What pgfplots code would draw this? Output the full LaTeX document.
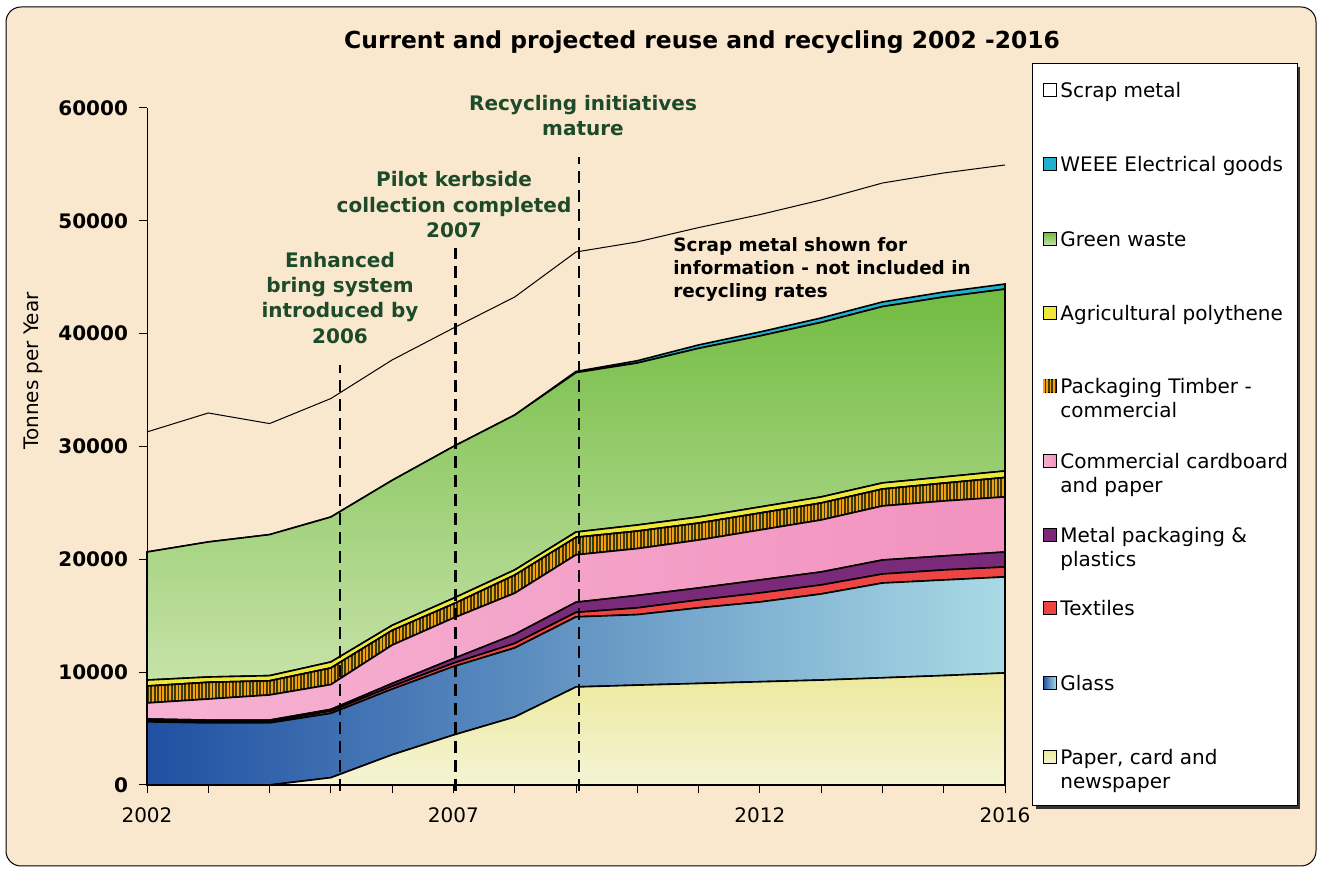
\documentclass[border=0pt]{standalone}
\usepackage{fontspec}
\setmainfont{DejaVu Sans}
\usepackage{pgfplots}
\pgfplotsset{compat=1.18}
\usepackage{pgfplotstable}
\usetikzlibrary{patterns.meta}

\definecolor{bgcol}{HTML}{F9E8CD}
\definecolor{paperTop}{HTML}{ECE99C}
\definecolor{paperBot}{HTML}{F5F4D4}
\definecolor{glassL}{HTML}{1F50A2}
\definecolor{glassM}{HTML}{7CC2EC}
\definecolor{glassR}{HTML}{A9DAE5}
\definecolor{textilecol}{HTML}{EE4444}
\definecolor{metalcol}{HTML}{7A2A78}
\definecolor{cardL}{HTML}{F6B2D2}
\definecolor{cardR}{HTML}{F292BF}
\definecolor{timberBase}{HTML}{3F3A05}
\definecolor{timberLine}{HTML}{F0A010}
\definecolor{agricol}{HTML}{EDE83A}
\definecolor{greenTop}{HTML}{72BC42}
\definecolor{greenBot}{HTML}{C6E2A8}
\definecolor{weeecol}{HTML}{1FB0CD}
\definecolor{anncol}{HTML}{1C4A2A}

\pgfplotstableread{
year paper glass textiles metal cardboard timber agri green weee scrap
2002 0    5600 150 100  1420 1500 530 11350 0   10640
2003 0    5500 150 100  1870 1480 470 11970 0   11430
2004 0    5500 150 100  2230 1250 460 12500 0   9840
2005 650  5700 200 150  2200 1470 530 12850 0   10500
2006 2680 5820 250 250  3400 1300 450 12850 0   10670
2007 4430 6070 300 400  3600 1250 500 13450 0   10500
2008 6030 6120 400 800  3650 1600 460 13730 0   10460
2009 8690 6210 400 900  4200 1550 470 14130 100 10590
2010 8850 6250 600 1100 4150 1550 540 14360 200 10530
2011 9000 6700 700 1060 4250 1500 540 14950 300 10400
2012 9150 7070 800 1150 4430 1500 540 15160 350 10400
2013 9300 7630 800 1150 4610 1500 540 15470 390 10460
2014 9500 8400 800 1240 4790 1500 540 15630 410 10540
2015 9700 8470 890 1240 4870 1580 550 15950 440 10550
2016 9930 8510 880 1330 4880 1720 580 16120 450 10550
}\datatable

\tikzset{
  paperstyle/.style={top color=paperTop, bottom color=paperBot},
  glassstyle/.style={left color=glassL, middle color=glassM, right color=glassR},
  textilestyle/.style={fill=textilecol},
  metalstyle/.style={fill=metalcol},
  cardstyle/.style={left color=cardL, right color=cardR},
  timberstyle/.style={fill=timberBase, postaction={pattern={Lines[angle=90,distance=1.7pt,line width=0.8pt]}, pattern color=timberLine}},
  agristyle/.style={fill=agricol},
  greenstyle/.style={top color=greenTop, bottom color=greenBot},
  weeestyle/.style={fill=weeecol},
  scrapstyle/.style={fill=white},
  dashline/.style={black, line width=1.4pt, dash pattern=on 6pt off 3.5pt},
}

\newcommand{\legitem}[4]{%
  \draw[#2, draw=black, line width=0.5pt] (521.5pt,{#1pt-3.25pt}) rectangle (528pt,{#1pt+3.25pt});
  \node[anchor=base west, inner sep=0pt, font=\fontsize{10}{12}\selectfont] at (530pt,{#1pt-3.6pt}) {#3};
  \node[anchor=base west, inner sep=0pt, font=\fontsize{10}{12}\selectfont] at (530pt,{#1pt-15.6pt}) {#4};
}

\begin{document}
\begin{tikzpicture}
\fill[white] (0pt,0pt) rectangle (660.5pt,435.5pt);
\draw[fill=bgcol, rounded corners=7.5pt, line width=0.5pt] (3pt,2.5pt) rectangle (658pt,432pt);

\begin{axis}[
  at={(73.5pt,43pt)}, anchor=south west,
  scale only axis, width=429pt, height=338.5pt,
  xmin=2002, xmax=2016, ymin=0, ymax=60000,
  stack plots=y,
  clip=false,
  scaled y ticks=false, scaled x ticks=false,
  axis x line*=bottom, axis y line*=left,
  axis line style={-, black},
  x axis line style={line width=1pt},
  tick align=outside,
  major tick length=4pt,
  tick style={black, line width=0.5pt},
  xtick={2002,2003,...,2016},
  xticklabels={2002,,,,,2007,,,,,2012,,,,2016},
  ytick={0,10000,20000,30000,40000,50000,60000},
  yticklabels={0,10000,20000,30000,40000,50000,60000},
  xticklabel style={font=\fontsize{10}{12}\selectfont, yshift=-4pt},
  yticklabel style={font=\fontsize{10}{12}\selectfont\bfseries, xshift=-2pt},
  ylabel={Tonnes per Year},
  every axis y label/.style={at={(axis description cs:-0.1329,0.6115)}, anchor=center, rotate=90, font=\fontsize{10}{12}\selectfont},
  title={Current and projected reuse and recycling 2002 -2016},
  title style={at={(axis description cs:0.6469,1.0702)}, anchor=base, font=\fontsize{11.7}{14}\selectfont\bfseries},
  every axis plot/.append style={draw=black, line width=0.8pt},
]
\addplot[paperstyle] table[x=year, y=paper] {\datatable} \closedcycle;
\addplot[glassstyle] table[x=year, y=glass] {\datatable} \closedcycle;
\addplot[textilestyle] table[x=year, y=textiles] {\datatable} \closedcycle;
\addplot[metalstyle] table[x=year, y=metal] {\datatable} \closedcycle;
\addplot[cardstyle] table[x=year, y=cardboard] {\datatable} \closedcycle;
\addplot[timberstyle] table[x=year, y=timber] {\datatable} \closedcycle;
\addplot[agristyle] table[x=year, y=agri] {\datatable} \closedcycle;
\addplot[greenstyle] table[x=year, y=green] {\datatable} \closedcycle;
\addplot[weeestyle] table[x=year, y=weee] {\datatable} \closedcycle;
\addplot[draw=black, line width=0.5pt] table[x=year, y=scrap] {\datatable};

\coordinate (d1b) at (axis cs:2005.15,-500);
\coordinate (d1t) at (axis cs:2005.15,37200);
\coordinate (d2b) at (axis cs:2007.03,-500);
\coordinate (d2t) at (axis cs:2007.03,47600);
\coordinate (d3b) at (axis cs:2009.05,-500);
\coordinate (d3t) at (axis cs:2009.05,55700);
\end{axis}

\draw[dashline] (d1b) -- (d1t);
\draw[dashline] (d2b) -- (d2t);
\draw[dashline] (d3b) -- (d3t);

% annotations
\begin{scope}[every node/.style={anchor=base, inner sep=0pt, font=\fontsize{10}{12}\selectfont\bfseries, text=anncol}]
\node at (170pt,301.5pt) {Enhanced};
\node at (170pt,289pt) {bring system};
\node at (170pt,276.5pt) {introduced by};
\node at (170pt,263.5pt) {2006};
\node at (227pt,342pt) {Pilot kerbside};
\node at (227pt,329pt) {collection completed};
\node at (227pt,316.5pt) {2007};
\node at (291.5pt,380pt) {Recycling initiatives};
\node at (291.5pt,367.5pt) {mature};
\end{scope}
\begin{scope}[every node/.style={anchor=base west, inner sep=0pt, font=\fontsize{9.2}{11}\selectfont\bfseries, text=black}]
\node at (336.5pt,309.5pt) {Scrap metal shown for};
\node at (336.5pt,298pt) {information - not included in};
\node at (336.5pt,286.5pt) {recycling rates};
\end{scope}

% legend
\fill[black!80] (518pt,31pt) rectangle (650pt,402pt);
\draw[fill=white, line width=0.5pt] (516pt,32.5pt) rectangle (648.5pt,403.5pt);
\legitem{390.5}{scrapstyle}{Scrap metal}{}
\legitem{353.5}{weeestyle}{WEEE Electrical goods}{}
\legitem{316}{greenstyle}{Green waste}{}
\legitem{279}{agristyle}{Agricultural polythene}{}
\legitem{242.5}{timberstyle}{Packaging Timber -}{commercial}
\legitem{205}{cardstyle}{Commercial cardboard}{and paper}
\legitem{168}{metalstyle}{Metal packaging \&}{plastics}
\legitem{131.5}{textilestyle}{Textiles}{}
\legitem{94}{glassstyle}{Glass}{}
\legitem{57}{paperstyle}{Paper, card and}{newspaper}
\end{tikzpicture}
\end{document}
